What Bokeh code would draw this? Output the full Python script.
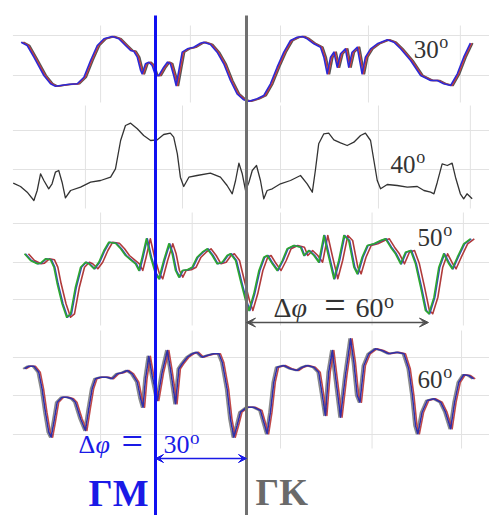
from bokeh.plotting import figure
from bokeh.models import Range1d, Arrow, VeeHead
from bokeh.core.properties import value
from bokeh.embed import file_html
from bokeh.resources import INLINE

# ---------------- data: azimuth phi (deg, GM = 0) and intensity (arb. units) ----------------
PHI_30 = [-44.3,-42.3,-40.1,-36.8,-34.6,-33.0,-29.1,-25.8,-23.6,-21.4,-19.2,-17.0,-14.3,-12.1,-9.9,
          -8.2,-7.2,-6.0,-4.9,-4.4,-3.3,-2.2,-1.1,0.0,1.1,2.7,3.9,4.9,6.0,6.8,7.7,8.8,10.5,12.6,14.8,
          15.9,18.1,20.3,22.5,24.7,26.9,29.1,30.8,33.5,35.7,37.9,40.1,42.3,44.5,46.7,48.4,50.0,52.2,
          54.4,55.5,56.6,57.7,58.8,59.9,61.0,62.6,63.7,64.8,66.5,68.1,69.2,70.9,73.1,76.4,78.6,80.8,
          84.1,87.4,90.7,92.9,95.0,97.3,99.5,101.6,103.8]
INT_30 = [68.3,65,53.3,35,26.7,24.3,26,26.7,33.3,50,65,71.7,74,71.7,65,60,59.3,53.3,40,36.7,46.7,48.3,
          45,35,35,43.3,48.3,46.7,35,25,40,58.3,61.7,63.3,67.3,68.3,66,58.3,46.7,30,16.7,10.7,9.3,11.7,
          15,26.7,43.3,58.3,70,73.3,74,71.7,66.7,63.3,53.3,36.7,53.3,58.3,43.3,56.7,61.7,43.3,58.3,63.3,
          36.7,53.3,61.7,66.7,70.7,68.3,61.7,50,35,30,30,26.7,25,36.7,53.3,67.3]

PHI_40 = [-46.9,-44.5,-42.3,-40.1,-39.0,-37.9,-36.8,-35.2,-34.1,-33.0,-31.9,-30.8,-29.7,-28.0,-24.7,
          -21.4,-18.1,-14.8,-13.2,-11.5,-9.9,-8.2,-6.0,-3.9,-1.6,0.6,2.7,4.9,6.0,7.2,8.2,9.3,11.0,13.7,
          18.1,21.4,23.6,25.3,26.4,27.5,28.6,29.7,30.8,31.9,33.3,34.6,35.7,36.8,38.5,41.2,44.5,47.8,
          50.0,51.7,52.7,53.8,55.5,57.1,58.8,61.0,63.2,65.4,67.6,69.2,70.9,72.0,73.1,74.2,76.4,79.7,
          83.0,86.3,88.5,90.7,91.8,92.9,94.5,96.2,97.8,98.9,100.5,101.6,102.7,104.4]
INT_40 = [27.3,24,18.3,10,20,36.7,30,21.7,26.7,38.3,40,28.3,12.7,20,23.3,28.3,30,33.3,41.7,70,85,87.3,
          81.7,75,70,70.7,76,77.3,73.3,56.7,33.3,24,33.3,35,37.3,33.3,25,16.7,30,47.3,36.7,20,28.3,40,
          45,30,11.7,20,21.7,26.7,30,35,26.7,18.3,40,66.7,76.7,77.3,70.7,67.7,65,68.3,75,77.3,70,50,30,
          21.7,26,25,23.3,24,20,18.3,16.7,28.3,46.7,45,47.3,33.3,16.7,11.7,16.7,11.7]

PHI_50 = [-43.2,-41.2,-39.0,-37.9,-36.3,-34.6,-33.5,-32.4,-30.8,-29.3,-28.0,-26.4,-24.7,-23.1,-22.0,
          -20.3,-18.7,-17.0,-15.4,-13.2,-11.5,-9.9,-8.2,-6.6,-5.5,-4.4,-3.0,-1.6,0.0,1.1,2.7,4.4,5.5,
          6.6,7.7,8.8,10.5,12.1,13.7,15.4,17.0,18.7,20.3,22.0,23.6,24.7,26.4,28.0,29.7,30.8,32.4,34.1,
          35.7,36.8,38.5,40.1,41.8,43.4,45.6,47.8,48.9,50.5,52.2,53.8,55.5,57.1,58.8,60.4,62.1,63.7,
          65.4,66.5,68.1,69.8,72.0,74.2,75.8,77.5,79.1,80.8,82.4,84.1,85.7,87.4,89.0,90.1,91.8,93.4,
          95.0,96.7,97.8,99.5,101.6,103.8]
INT_50 = [71.7,65,61.7,62.3,66.7,65.7,58.3,41.7,21.7,8.3,11.7,38.3,58.3,63.3,61.7,56.7,63.3,75,83.3,
          82.3,76.7,70,65.7,61.7,55,68.3,86.7,68.3,51.7,46.7,65,81.7,71.7,55,48.3,55,55.7,58.3,68.3,
          73.3,76.7,70,61.7,63.3,70,71.7,65,45,25,15,31.7,55,68.3,70,61.7,55,65,76.7,80,78.3,70,75,70,
          63.3,90,68.3,46.7,65,90,85,58.3,51.7,68.3,80,81.7,85,86.7,78.3,71.7,61.7,73.3,75,61.7,38.3,
          15,11.7,28.3,58.3,71.7,61.7,56.7,68.3,81.7,86.7]

PHI_60 = [-43.2,-41.8,-40.1,-38.5,-37.4,-36.3,-35.2,-34.4,-33.5,-32.4,-30.8,-29.1,-27.5,-26.4,-24.7,
          -23.1,-22.0,-20.9,-19.8,-18.1,-15.9,-14.3,-12.6,-11.0,-9.3,-7.7,-6.0,-4.9,-4.1,-3.3,-2.2,
          -1.1,0.6,2.2,3.9,4.9,6.6,7.7,8.8,10.5,12.1,13.7,15.4,17.0,19.2,20.9,22.0,23.6,24.7,25.8,
          26.9,28.0,30.2,32.4,34.6,35.7,36.8,37.9,39.0,40.1,42.3,44.5,46.7,48.4,50.0,52.2,53.8,55.0,
          56.0,57.1,58.3,59.3,61.0,62.6,64.3,65.4,66.5,67.4,68.7,70.3,72.5,74.7,76.9,79.7,81.9,83.5,
          84.7,85.7,86.5,87.9,89.6,91.8,94.0,95.6,97.3,98.6,100.0,101.6,103.3,104.9]
INT_60 = [76.7,79.3,79.3,73.3,56.7,33.3,13.3,8.3,23.3,43.3,48.3,48.3,46.7,43.3,26.7,15,36.7,56.7,66.7,
          68.3,68.3,66.7,71.7,72.7,75,71.7,63.3,46.7,38.3,66.7,89.3,70,45,73.3,95,76.7,41.7,76.7,81.7,
          88.3,91.7,93.3,88.3,90,91.7,91.7,83.3,56.7,26.7,8.3,20,33.3,38.3,38.3,35,23.3,11.7,33.3,63.3,
          78.3,80,76.7,75,78.3,80,78.3,73.3,50,30,73.3,95,70,28.3,70,106.7,83.3,50,43.3,80,91.7,96.7,
          95,91.7,93.3,91.7,76.7,50,20,11.7,33.3,45,46.7,43.3,33.3,16.7,43.3,63.3,70.7,70,66.7]

PANEL_ANGLES = ["30", "40", "50", "60"]     # polar angles (deg)
PHI_GM, PHI_GK = 0.0, 30.0                  # high-symmetry azimuths
DPHI_60 = (30.0, 90.0)                      # Δφ = 60° span
DPHI_30 = (0.0, 30.0)                       # Δφ = 30° span

# per-series colour and azimuth offset (deg) of the overlapping repeated scans
SERIES = {
    0: [("#555555", 0.8), ("#cc3a3a", 0.4), ("#2b2bd6", 0.0)],
    1: [("#333333", 0.0)],
    2: [("#b03a3a", 1.3), ("#3548c0", 0.3), ("#2ea82e", 0.0)],
    3: [("#8a8a8a", -0.5), ("#c04848", 0.5), ("#3030a8", 0.0)],
}
CURVES = [(PHI_30, INT_30), (PHI_40, INT_40), (PHI_50, INT_50), (PHI_60, INT_60)]

# ---------------- layout ----------------
PX_PER_DEG = 3.0333
BASE = [405, 305, 190, 70]                      # vertical offset of each panel
HGRID = [[75, 35], [80, 41], [102, 63, 26], [88, 50, 11]]
VGRID = [[-18.1, 11.5, 41.2, 70.2, 100.5],
         [-23.1, 8.9, 41.2, 73.5, 103.8],
         [-18.1, 12.1, 41.2, 71.4, 101.5],
         [-18.1, 12.1, 41.2, 71.4, 100.9]]
VSPAN = [(8, 85), (2, 105), (0, 113), (-3, 115)]
LABEL_POS = [(85.1, 458), (77.5, 343), (86.4, 270), (86.4, 128)]

p = figure(width=489, height=515, output_backend="svg", toolbar_location=None,
           x_range=Range1d(-155 / PX_PER_DEG, (489 - 155) / PX_PER_DEG), y_range=Range1d(0, 515),
           min_border=0, outline_line_color=None)
p.axis.visible = False
p.grid.visible = False
p.background_fill_color = "white"

GRID_C = "#e2e2e2"
for k in range(4):
    for h in HGRID[k]:
        p.line([-47, 112], [BASE[k] + h, BASE[k] + h], color=GRID_C, line_width=1)
    lo, hi = VSPAN[k]
    for v in VGRID[k]:
        p.line([v, v], [BASE[k] + lo, BASE[k] + hi], color=GRID_C, line_width=1)

for k, (phis, ints) in enumerate(CURVES):
    for color, off in SERIES[k]:
        p.line([f + off for f in phis], [BASE[k] + i for i in ints],
               color=color, line_width=1.6 if k != 1 else 1.3, line_join="round")

# high-symmetry direction lines
p.line([PHI_GM, PHI_GM], [0, 500], color="#1010f0", line_width=3)
p.line([PHI_GK, PHI_GK], [0, 500], color="#707070", line_width=3)

serif = "Liberation Serif"


def txt(x, y, s, size, color, style="normal"):
    """y is the text baseline; placed via its em-box middle"""
    p.text(x=[x], y=[y + 0.34 * size], text=[s], text_font=value(serif),
           text_font_size=f"{size}px", text_color=color, text_font_style=style,
           text_baseline="middle", text_align="left")


def degrees(x, y, num, size, color):
    """number followed by a raised small 'o' (degree mark as in the original)"""
    txt(x, y, num, size, color)
    w = 0.5 * size * len(num) / PX_PER_DEG
    txt(x + w + 0.2, y + 0.36 * size, "o", round(size * 0.72), color)


for k, ang in enumerate(PANEL_ANGLES):
    x, y = LABEL_POS[k]
    degrees(x, y, ang, 25, "#333333")

# Δφ = 60°
g = "#505050"
p.add_layout(Arrow(x_start=DPHI_60[0], y_start=193, x_end=DPHI_60[1], y_end=193,
                   line_color=g, line_width=1.5,
                   start=VeeHead(size=9, fill_color=g, line_color=g),
                   end=VeeHead(size=9, fill_color=g, line_color=g)))
txt(38.9, 198, "\u0394", 28, "#333333")
txt(44.8, 198, "\u03c6", 28, "#333333", "italic")
txt(55.6, 198, "=", 38, "#333333")
degrees(65.9, 198, "60", 28, "#333333")

# Δφ = 30°
b = "#1a1ae6"
p.add_layout(Arrow(x_start=DPHI_30[0], y_start=57, x_end=DPHI_30[1], y_end=57,
                   line_color=b, line_width=1.5,
                   start=VeeHead(size=8, fill_color=b, line_color=b),
                   end=VeeHead(size=8, fill_color=b, line_color=b)))
txt(-25.4, 62, "\u0394", 26, b)
txt(-19.8, 62, "\u03c6", 26, b, "italic")
txt(-11.2, 62, "=", 38, b)
degrees(2.6, 62, "30", 26, b)

# direction labels
txt(-22.1, 10, "\u0393M", 38, b, "bold")
txt(33.0, 10, "\u0393K", 37, "#6a6a6a", "bold")

open("out.html", "w").write(file_html(p, INLINE))
